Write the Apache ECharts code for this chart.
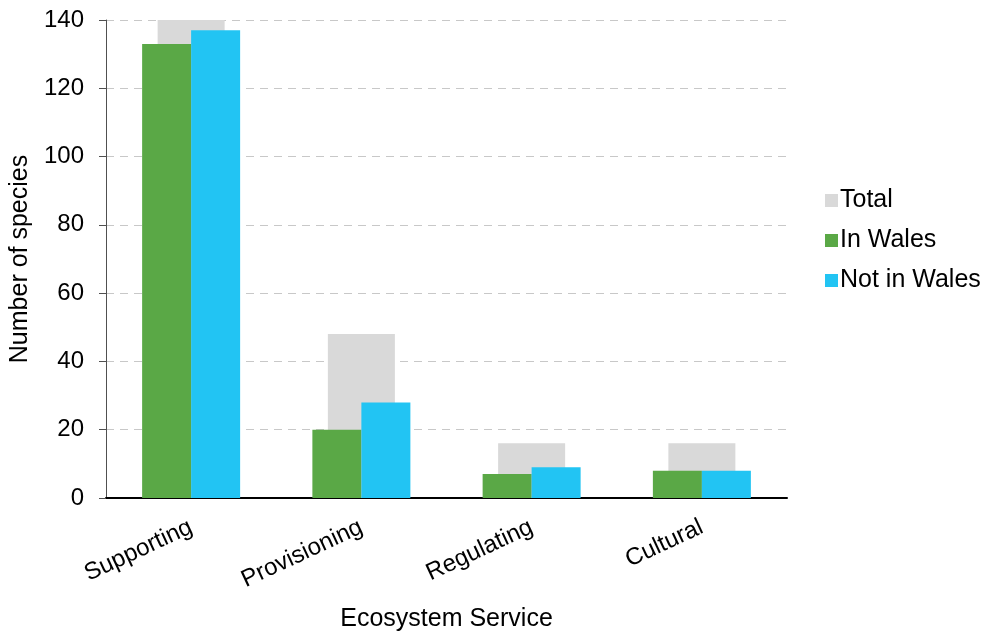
<!DOCTYPE html>
<html>
<head>
<meta charset="utf-8">
<script src="https://cdn.jsdelivr.net/npm/echarts@6/dist/echarts.min.js"></script>
<style>
  html, body { margin: 0; padding: 0; background: #fff; }
  #chart { width: 984px; height: 634px; }
</style>
</head>
<body>
<div id="chart"></div>
<script>
// Species counts by ecosystem service
const categories = ['Supporting', 'Provisioning', 'Regulating', 'Cultural'];
const inWales = [133, 20, 7, 8];
const notInWales = [137, 28, 9, 8];
const total = [270, 48, 16, 16];
const yTicks = { min: 0, max: 140, interval: 20 };

const font = 'Arial, "Liberation Sans", sans-serif';
const chart = echarts.init(document.getElementById('chart'));

chart.setOption({
  animation: false,
  textStyle: { fontFamily: font },
  grid: {
    left: 106, top: 20, right: 197, bottom: 136,
    containLabel: false,
    outerBoundsMode: 'none'
  },
  legend: {
    orient: 'vertical',
    left: 820,
    top: 183,
    itemWidth: 13,
    itemHeight: 13,
    itemGap: 15,
    icon: 'rect',
    textStyle: { fontSize: 25, color: '#000', fontFamily: font, padding: [0, 0, 0, -3] },
    data: ['Total', 'In Wales', 'Not in Wales']
  },
  xAxis: [
    {
      type: 'category',
      data: categories,
      name: 'Ecosystem Service',
      nameLocation: 'middle',
      nameGap: 109,
      nameTextStyle: { fontSize: 25, color: '#000', fontFamily: font },
      axisLine: { show: true, lineStyle: { color: '#000', width: 2 } },
      axisTick: { show: false },
      axisLabel: { rotate: 25, fontSize: 24, color: '#000', margin: 28, fontFamily: font }
    },
    {
      type: 'category',
      data: categories,
      show: false
    }
  ],
  yAxis: {
    type: 'value',
    min: yTicks.min,
    max: yTicks.max,
    interval: yTicks.interval,
    name: 'Number of species',
    nameLocation: 'middle',
    nameGap: 70,
    nameTextStyle: { fontSize: 25, color: '#000', fontFamily: font },
    axisLine: { show: true, lineStyle: { color: '#505050', width: 1 } },
    axisTick: { show: true, length: 7, lineStyle: { color: '#505050' } },
    axisLabel: { fontSize: 24, color: '#000', margin: 22, fontFamily: font },
    splitLine: { show: true, lineStyle: { color: '#c8c8c8', type: [8, 6], width: 1 } }
  },
  series: [
    {
      name: 'Total',
      type: 'bar',
      xAxisIndex: 1,
      data: total,
      barWidth: 67,
      itemStyle: { color: '#d9d9d9' },
      clip: true,
      z: 1
    },
    {
      name: 'In Wales',
      type: 'bar',
      xAxisIndex: 0,
      data: inWales,
      barWidth: 49,
      barGap: '0%',
      itemStyle: { color: '#5aa846' },
      z: 2
    },
    {
      name: 'Not in Wales',
      type: 'bar',
      xAxisIndex: 0,
      data: notInWales,
      barWidth: 49,
      barGap: '0%',
      itemStyle: { color: '#22c4f3' },
      z: 2
    }
  ]
});
</script>
</body>
</html>
